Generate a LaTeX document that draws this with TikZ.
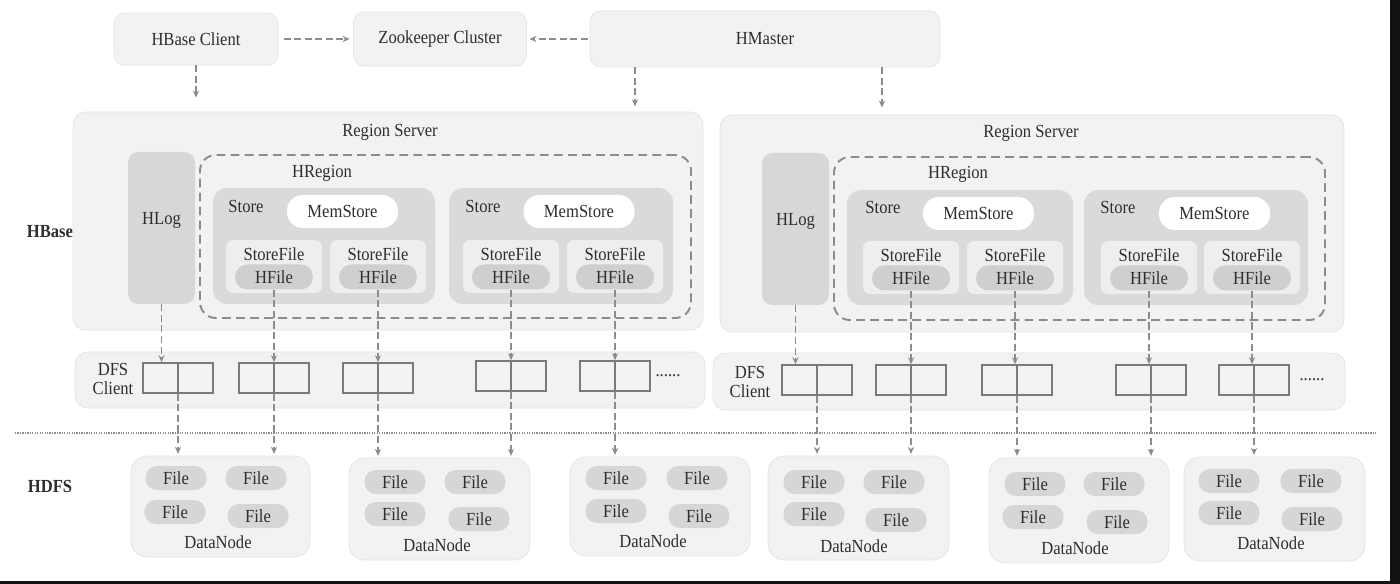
\documentclass[tikz,border=0pt]{standalone}
\usepackage{fontspec}
\setmainfont{Liberation Serif}[FakeStretch=0.9]
\usepackage{tikz}
\usetikzlibrary{arrows.meta, calc}
\definecolor{panelgray}{HTML}{F2F2F2}
\definecolor{panelline}{HTML}{E4E4E4}
\definecolor{loggray}{HTML}{D7D7D7}
\definecolor{storegray}{HTML}{DADADA}
\definecolor{sfgray}{HTML}{EEEEEE}
\definecolor{hfgray}{HTML}{CFCFCF}
\definecolor{filegray}{HTML}{D6D6D6}
\definecolor{linegray}{HTML}{8C8C8C}
\definecolor{boxline}{HTML}{7A7A7A}
\definecolor{textgray}{HTML}{2E2E2E}

\begin{document}
\begin{tikzpicture}[
    x=0.02cm, y=-0.02cm,
    every node/.style={font=\fontsize{10.5}{11}\selectfont, text=textgray, inner sep=0pt, align=center},
    sz/.style 2 args={minimum width=#1*0.02cm, minimum height=#2*0.02cm},
    topbox/.style={rectangle, fill=panelgray, draw=panelline, rounded corners=6pt},
    server/.style={rectangle, fill=panelgray, draw=panelline, rounded corners=7pt},
    hlogbox/.style={rectangle, fill=loggray, rounded corners=6pt},
    hregionbox/.style={rectangle, draw=linegray, line width=1.1pt, dash pattern=on 5pt off 3pt, rounded corners=9pt},
    storebox/.style={rectangle, fill=storegray, rounded corners=8pt},
    membox/.style={rectangle, fill=white, rounded corners=9pt, sz={111}{33}},
    sfbox/.style={rectangle, fill=sfgray, rounded corners=4pt, sz={96}{53}},
    hfbox/.style={rectangle, fill=hfgray, rounded corners=7pt, sz={78}{25}},
    dfsbox/.style={rectangle, draw=boxline, line width=0.9pt, sz={70}{30},
                   path picture={\draw[boxline, line width=0.9pt] (path picture bounding box.north) -- (path picture bounding box.south);}},
    dnbox/.style={rectangle, fill=panelgray, draw=panelline, rounded corners=9pt},
    filebox/.style={rectangle, fill=filegray, rounded corners=6.5pt, sz={61}{24}},
    sidelabel/.style={font=\fontsize{10.5}{11}\selectfont\bfseries},
    flow/.style={-{Stealth[length=4pt, width=3.5pt]}, draw=linegray, line width=0.7pt, dash pattern=on 4pt off 2pt}
]
\useasboundingbox (0,0) rectangle (1400,584);

% Top row
\node[topbox, sz={164}{52}] at (196,39) (client) {HBase Client};
\node[topbox, sz={173}{54}] at (440,39) (zk) {Zookeeper Cluster};
\node[topbox, sz={350}{56}] at (765,39) (master) {HMaster};

% Layer labels
\node[sidelabel] at (50,232) (hbase) {HBase};
\node[sidelabel] at (50,486) (hdfs) {HDFS};

% Left region server
\node[server, sz={630}{218}] at (388,221) (rs1) {};
\node at (390,132) (rs1t) {Region Server};
\node[hlogbox, sz={67}{152}] at (161.5,228) (hlog1) {};
\node at (161.5,220) (hlog1t) {HLog};
\node[hregionbox, sz={491}{163}] at (445.5,236.5) (hr1) {};
\node at (322,173) (hr1t) {HRegion};
\node[storebox, sz={222}{116}] at (324,246) (st1) {};
\node at (246,206) (st1t) {Store};
\node[membox] at (342.5,211.5) (ms1) {MemStore};
\node[sfbox] at (274,266.5) (sf1) {};
\node at (274,254) (sf1t) {StoreFile};
\node[hfbox] at (274,277) (hf1) {HFile};
\node[sfbox] at (378,266.5) (sf2) {};
\node at (378,254) (sf2t) {StoreFile};
\node[hfbox] at (378,277) (hf2) {HFile};
\node[storebox, sz={224}{116}] at (561,246) (st2) {};
\node at (483,206) (st2t) {Store};
\node[membox] at (579,211.5) (ms2) {MemStore};
\node[sfbox] at (511,266.5) (sf3) {};
\node at (511,254) (sf3t) {StoreFile};
\node[hfbox] at (511,277) (hf3) {HFile};
\node[sfbox] at (615,266.5) (sf4) {};
\node at (615,254) (sf4t) {StoreFile};
\node[hfbox] at (615,277) (hf4) {HFile};

% Right region server
\node[server, sz={624}{217}] at (1032,223.5) (rs2) {};
\node at (1031,133) (rs2t) {Region Server};
\node[hlogbox, sz={67}{152}] at (795.5,229) (hlog2) {};
\node at (795.5,221) (hlog2t) {HLog};
\node[hregionbox, sz={491}{163}] at (1079.5,238.5) (hr2) {};
\node at (958,174) (hr2t) {HRegion};
\node[storebox, sz={226}{115}] at (960,247.5) (st3) {};
\node at (883,207) (st3t) {Store};
\node[membox] at (978.5,213.5) (ms3) {MemStore};
\node[sfbox] at (911,267.5) (sf5) {};
\node at (911,255) (sf5t) {StoreFile};
\node[hfbox] at (911,278) (hf5) {HFile};
\node[sfbox] at (1015,267.5) (sf6) {};
\node at (1015,255) (sf6t) {StoreFile};
\node[hfbox] at (1015,278) (hf6) {HFile};
\node[storebox, sz={224}{115}] at (1196,247.5) (st4) {};
\node at (1118,207) (st4t) {Store};
\node[membox] at (1214.5,213.5) (ms4) {MemStore};
\node[sfbox] at (1149,267.5) (sf7) {};
\node at (1149,255) (sf7t) {StoreFile};
\node[hfbox] at (1149,278) (hf7) {HFile};
\node[sfbox] at (1252,267.5) (sf8) {};
\node at (1252,255) (sf8t) {StoreFile};
\node[hfbox] at (1252,278) (hf8) {HFile};

% DFS clients
\node[server, sz={630}{56}] at (390,380) (dfs1) {};
\node at (113,379) (dfs1t) {DFS\\Client};
\node[dfsbox] at (178,378) (db1) {};
\node[dfsbox] at (274,378) (db2) {};
\node[dfsbox] at (378,378) (db3) {};
\node[dfsbox] at (511,376) (db4) {};
\node[dfsbox] at (615,376) (db5) {};
\node at (668,376) (dots1) {......};
\node[server, sz={632}{57}] at (1029,381.5) (dfs2) {};
\node at (750,382) (dfs2t) {DFS\\Client};
\node[dfsbox] at (817,380) (db6) {};
\node[dfsbox] at (911,380) (db7) {};
\node[dfsbox] at (1017,380) (db8) {};
\node[dfsbox] at (1151,380) (db9) {};
\node[dfsbox] at (1254,380) (db10) {};
\node at (1312,380) (dots2) {......};

% HBase / HDFS border
\draw[linegray, line width=0.6pt, dash pattern=on 0.7pt off 0.7pt] (15,433) -- (1376,433);

% DataNodes
\node[dnbox, sz={179}{101}] at (220.5,506.5) (dn1) {};
\node[filebox] at (176,478) (f11) {File};
\node[filebox] at (256,478) (f12) {File};
\node[filebox] at (175,512) (f13) {File};
\node[filebox] at (258,516) (f14) {File};
\node at (218,542) (dn1t) {DataNode};

\node[dnbox, sz={181}{102}] at (439.5,509) (dn2) {};
\node[filebox] at (395,482) (f21) {File};
\node[filebox] at (475,482) (f22) {File};
\node[filebox] at (395,514) (f23) {File};
\node[filebox] at (479,519) (f24) {File};
\node at (437,545) (dn2t) {DataNode};

\node[dnbox, sz={180}{99}] at (660,506.5) (dn3) {};
\node[filebox] at (616,478) (f31) {File};
\node[filebox] at (697,478) (f32) {File};
\node[filebox] at (616,511) (f33) {File};
\node[filebox] at (699,516) (f34) {File};
\node at (653,541) (dn3t) {DataNode};

\node[dnbox, sz={181}{104}] at (858.5,508) (dn4) {};
\node[filebox] at (814,482) (f41) {File};
\node[filebox] at (894,482) (f42) {File};
\node[filebox] at (814,514) (f43) {File};
\node[filebox] at (896,520) (f44) {File};
\node at (854,546) (dn4t) {DataNode};

\node[dnbox, sz={180}{105}] at (1079,510.5) (dn5) {};
\node[filebox] at (1035,484) (f51) {File};
\node[filebox] at (1114,484) (f52) {File};
\node[filebox] at (1033,517) (f53) {File};
\node[filebox] at (1117,522) (f54) {File};
\node at (1075,548) (dn5t) {DataNode};

\node[dnbox, sz={181}{104}] at (1274.5,509) (dn6) {};
\node[filebox] at (1229,481) (f61) {File};
\node[filebox] at (1311,481) (f62) {File};
\node[filebox] at (1229,513) (f63) {File};
\node[filebox] at (1312,519) (f64) {File};
\node at (1271,543) (dn6t) {DataNode};

% Top arrows
\coordinate (mA) at ($(master.south)+(-130,0)$);
\coordinate (mB) at ($(master.south)+(117,0)$);
\draw[flow, shorten <=3pt, shorten >=2pt] (client.east) -- (zk.west);
\draw[flow, shorten <=1pt, shorten >=1.5pt] (master.west) -- (zk.east);
\draw[flow, shorten >=8pt] (client.south) -- (client.south |- rs1.north);
\draw[flow, shorten >=3pt] (mA) -- (mA |- rs1.north);
\draw[flow, shorten >=4pt] (mB) -- (mB |- rs2.north);

% Logs and files to DFS clients
\draw[flow] (hlog1.south) -- (hlog1.south |- db1.north);
\draw[flow] (hf1.south) -- (hf1.south |- db2.north);
\draw[flow] (hf2.south) -- (hf2.south |- db3.north);
\draw[flow] (hf3.south) -- (hf3.south |- db4.north);
\draw[flow] (hf4.south) -- (hf4.south |- db5.north);
\draw[flow] (hlog2.south) -- (hlog2.south |- db6.north);
\draw[flow] (hf5.south) -- (hf5.south |- db7.north);
\draw[flow] (hf6.south) -- (hf6.south |- db8.north);
\draw[flow] (hf7.south) -- (hf7.south |- db9.north);
\draw[flow] (hf8.south) -- (hf8.south |- db10.north);

% DFS clients to DataNodes
\draw[flow, shorten >=1pt] (db1.south) -- (db1.south |- dn1.north);
\draw[flow, shorten >=1pt] (db2.south) -- (db2.south |- dn1.north);
\draw[flow, shorten >=1pt] (db3.south) -- (db3.south |- dn2.north);
\draw[flow, shorten >=1pt] (db4.south) -- (db4.south |- dn2.north);
\draw[flow, shorten >=1pt] (db5.south) -- (db5.south |- dn3.north);
\draw[flow, shorten >=1pt] (db6.south) -- (db6.south |- dn4.north);
\draw[flow, shorten >=1pt] (db7.south) -- (db7.south |- dn4.north);
\draw[flow, shorten >=1pt] (db8.south) -- (db8.south |- dn5.north);
\draw[flow, shorten >=1pt] (db9.south) -- (db9.south |- dn5.north);
\draw[flow, shorten >=1pt] (db10.south) -- (db10.south |- dn6.north);

% Screen frame
\fill[black!93] (1390,0) rectangle (1400,584);
\fill[black!93] (0,581) rectangle (1400,584);

\end{tikzpicture}
\end{document}
